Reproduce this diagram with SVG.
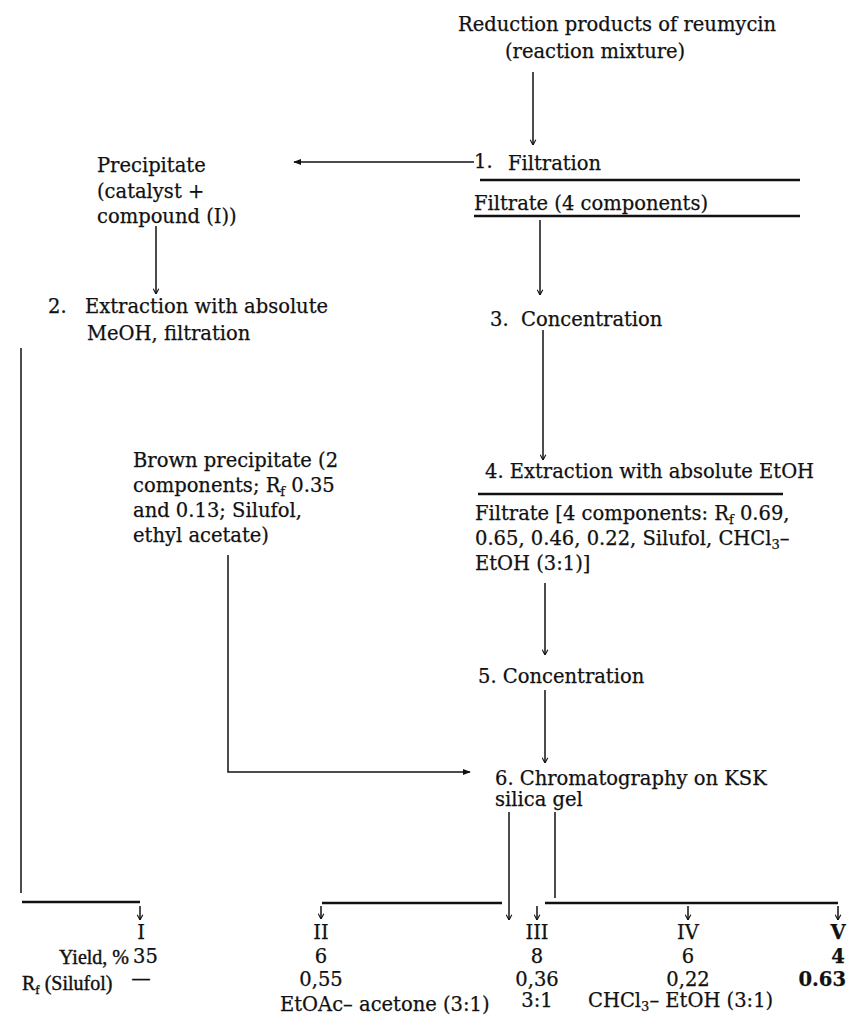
<svg xmlns="http://www.w3.org/2000/svg" width="847" height="1017" viewBox="0 0 847 1017">
<defs>
<style>
text{font-family:"DejaVu Serif","Liberation Serif",serif;font-size:19.5px;fill:#111;stroke:#111;stroke-width:0.25;}
.c{text-anchor:middle;}
.e{text-anchor:end;}
.b{font-weight:bold;}
.sm{font-family:"Liberation Serif",serif;font-size:20px;stroke-width:0.4;}
.ln{stroke:#111;stroke-width:1.5;fill:none;}
.th{stroke:#111;stroke-width:2.5;fill:none;}
.sub{font-size:13px;}
</style>
<marker id="ah" viewBox="0 0 10 10" markerWidth="7" markerHeight="7" refX="9.5" refY="5" orient="auto" markerUnits="userSpaceOnUse"><path d="M2,1 L9.5,5 L2,9" fill="none" stroke="#111" stroke-width="1.6"/></marker>
<marker id="ahs" viewBox="0 0 10 10" markerWidth="8" markerHeight="8" refX="9" refY="5" orient="auto" markerUnits="userSpaceOnUse"><path d="M0,1 L10,5 L0,9 z" fill="#111"/></marker>
</defs>
<rect width="847" height="1017" fill="#fff"/>

<g id="connectors">
<line class="ln" x1="533" y1="72" x2="533" y2="145" marker-end="url(#ah)"/>
<line class="ln" x1="474" y1="162" x2="294" y2="162" marker-end="url(#ahs)"/>
<line class="th" x1="480" y1="180" x2="800" y2="180"/>
<line class="th" x1="474" y1="216" x2="800" y2="216"/>
<line class="ln" x1="540" y1="220" x2="540" y2="295" marker-end="url(#ah)"/>
<line class="ln" x1="543" y1="330" x2="543" y2="460" marker-end="url(#ah)"/>
<line class="th" x1="478" y1="494" x2="783" y2="494"/>
<line class="ln" x1="545" y1="583" x2="545" y2="655" marker-end="url(#ah)"/>
<line class="ln" x1="545" y1="690" x2="545" y2="763" marker-end="url(#ah)"/>
<line class="ln" x1="156" y1="226" x2="156" y2="294" marker-end="url(#ah)"/>
<polyline class="ln" points="228,555 228,772 470,772" marker-end="url(#ahs)"/>
<line class="ln" x1="21" y1="348" x2="21" y2="893"/>
<line class="th" x1="22" y1="902" x2="140" y2="902"/>
<line class="ln" x1="140" y1="906" x2="140" y2="920" marker-end="url(#ah)"/>
<line class="th" x1="322" y1="903" x2="502" y2="903"/>
<line class="ln" x1="321" y1="906" x2="321" y2="919" marker-end="url(#ah)"/>
<line class="ln" x1="509" y1="812" x2="509" y2="920" marker-end="url(#ah)"/>
<line class="ln" x1="555" y1="812" x2="555" y2="898"/>
<line class="th" x1="545" y1="903" x2="838" y2="903"/>
<line class="ln" x1="537" y1="906" x2="537" y2="920" marker-end="url(#ah)"/>
<line class="ln" x1="688" y1="906" x2="688" y2="920" marker-end="url(#ah)"/>
<line class="ln" x1="838" y1="906" x2="838" y2="920" marker-end="url(#ah)"/>
</g>

<g id="start"><text x="458" y="31">Reduction products of reumycin</text><text x="505" y="58">(reaction mixture)</text></g>
<g id="step1"><text x="474" y="168">1.</text><text x="508" y="170">Filtration</text></g>
<g id="filtrate1"><text x="474" y="210">Filtrate (4 components)</text></g>
<g id="precipitate"><text x="97" y="172">Precipitate</text><text x="97" y="198">(catalyst +</text><text x="97" y="223">compound (I))</text></g>
<g id="step2"><text x="48" y="313">2.</text><text x="85" y="313">Extraction with absolute</text><text x="87" y="340">MeOH, filtration</text></g>
<g id="step3"><text x="490" y="326">3.</text><text x="521" y="326">Concentration</text></g>
<g id="brown"><text x="133" y="467">Brown precipitate (2</text><text x="133" y="492">components; R<tspan class="sub" dy="4">f</tspan><tspan dy="-4"> 0.35</tspan></text><text x="133" y="517">and 0.13; Silufol,</text><text x="133" y="542">ethyl acetate)</text></g>
<g id="step4"><text x="485" y="478">4. Extraction with absolute EtOH</text></g>
<g id="filtrate2"><text x="475" y="520">Filtrate [4 components:  R<tspan class="sub" dy="4">f</tspan><tspan dy="-4"> 0.69,</tspan></text><text x="475" y="545">0.65, 0.46, 0.22, Silufol, CHCl<tspan class="sub" dy="4">3</tspan><tspan dy="-4">–</tspan></text><text x="475" y="570">EtOH (3:1)]</text></g>
<g id="step5"><text x="478" y="683">5. Concentration</text></g>
<g id="step6"><text x="495" y="785">6. Chromatography on KSK</text><text x="495" y="806">silica gel</text></g>

<g id="labels"><text class="e sm" x="129" y="964">Yield, %</text><text class="sm" x="22" y="990">R<tspan class="sub" dy="4">f</tspan><tspan dy="-4"> (Silufol)</tspan></text></g>
<g id="prodI"><text class="c" x="141" y="939">I</text><text x="133" y="963">35</text><text class="c" x="141" y="985">—</text></g>
<g id="prodII"><text class="c" x="321" y="939">II</text><text class="c" x="321" y="963">6</text><text class="c" x="321" y="986">0,55</text><text x="280" y="1011">EtOAc– acetone (3:1)</text></g>
<g id="prodIII"><text class="c" x="537" y="939">III</text><text class="c" x="537" y="963">8</text><text class="c" x="537" y="986">0,36</text><text class="c" x="537" y="1007">3:1</text></g>
<g id="prodIV"><text class="c" x="688" y="939">IV</text><text class="c" x="688" y="963">6</text><text class="c" x="688" y="986">0,22</text><text x="588" y="1007">CHCl<tspan class="sub" dy="4">3</tspan><tspan dy="-4">– EtOH (3:1)</tspan></text></g>
<g id="prodV"><text class="c b" x="838" y="939">V</text><text class="c b" x="838" y="963">4</text><text class="e b" x="846" y="986">0.63</text></g>
</svg>
